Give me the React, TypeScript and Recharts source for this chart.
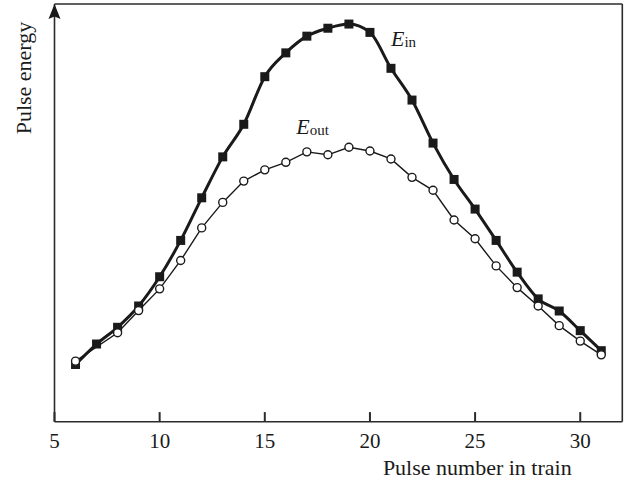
import React from "react";
import { LineChart, Line, XAxis, YAxis, ReferenceLine, ReferenceDot } from "recharts";

const pulseNumbers = [6, 7, 8, 9, 10, 11, 12, 13, 14, 15, 16, 17, 18, 19, 20, 21, 22, 23, 24, 25, 26, 27, 28, 29, 30, 31];
const energyIn = [13.7, 18.6, 22.6, 27.7, 34.7, 43.4, 53.6, 63.4, 71.2, 82.6, 88.3, 92.3, 94.2, 95.2, 93.2, 84.6, 77.0, 66.7, 58.0, 50.9, 43.4, 35.8, 29.4, 26.5, 21.8, 17.0];
const energyOut: (number | null)[] = [14.5, null, 21.3, 26.6, 31.8, 38.6, 46.4, 52.5, 57.6, 60.3, 62.1, 64.6, 63.9, 65.7, 64.8, 62.9, 58.5, 55.4, 48.3, 43.8, 37.3, 32.1, 27.7, 23.0, 19.3, 16.0];
const xTicks = [5, 10, 15, 20, 25, 30];
const xDomain = [5, 32];
const yDomain = [0, 100];
const xTitle = "Pulse number in train";
const yTitle = "Pulse energy";
const labelIn = { x: 21, y: 89.9, main: "E", sub: "in" };
const labelOut = { x: 16.5, y: 68.8, main: "E", sub: "out" };
const tickMarkLength = 2.3; // inward tick length, y-data units

const data = pulseNumbers.map((x, i) => ({ x, ein: energyIn[i], eout: energyOut[i] }));

const FONT = '"Liberation Serif", "Times New Roman", serif';
const INK = "#1a1a1a";
const AXIS = "#2b2b2b";

const SeriesLabel = (info: { main: string; sub: string }) => (props: any) => {
  const vb = props.viewBox || {};
  return (
    <text x={vb.x} y={vb.y} fontFamily={FONT} fill={INK} fontSize={22}>
      <tspan fontStyle="italic">{info.main}</tspan>
      <tspan fontSize={15} dy={1}>{info.sub}</tspan>
    </text>
  );
};

const YLabel = (props: any) => {
  const vb = props.viewBox || {};
  const ax = vb.x + vb.width;
  const top = vb.y;
  const tx = vb.x + 31;
  const ty = vb.y + 17.7;
  return (
    <g>
      <polygon points={`${ax},${top} ${ax - 6},${top + 15} ${ax},${top + 12.5} ${ax + 6},${top + 15}`} fill={INK} />
      <text
        x={tx}
        y={ty}
        transform={`rotate(-90, ${tx}, ${ty})`}
        textAnchor="end"
        fontFamily={FONT}
        fontSize={22}
        fill={INK}
      >
        {yTitle}
      </text>
    </g>
  );
};

const XLabel = (props: any) => {
  const vb = props.viewBox || {};
  return (
    <text
      x={vb.x + vb.width - 50.6}
      y={vb.y + 53.5}
      textAnchor="end"
      fontFamily={FONT}
      fontSize={22}
      fill={INK}
    >
      {xTitle}
    </text>
  );
};

const XTick = (props: any) => {
  const { x, y, payload } = props;
  return (
    <text x={x} y={y + 15} textAnchor="middle" fontFamily={FONT} fontSize={21} fill={INK}>
      {payload.value}
    </text>
  );
};

const SquareDot = (props: any) => {
  const { cx, cy } = props;
  if (cx == null || cy == null) return <g />;
  const s = 9;
  return <rect x={cx - s / 2} y={cy - s / 2} width={s} height={s} fill={INK} />;
};

export default function App() {
  return (
    <div style={{ position: "absolute", left: 0, top: 0, background: "#fff" }}>
      <LineChart
        width={627}
        height={484}
        data={data}
        margin={{ top: 4, right: 4.7, bottom: 2.3, left: 0 }}
      >
        <XAxis
          type="number"
          dataKey="x"
          domain={xDomain}
          ticks={xTicks}
          allowDataOverflow
          height={60}
          tickSize={0}
          tickMargin={11.4}
          axisLine={{ stroke: AXIS, strokeWidth: 1.6 }}
          tickLine={false}
          tick={<XTick />}
          label={{ content: XLabel }}
        />
        <YAxis
          type="number"
          domain={yDomain}
          allowDataOverflow
          width={54.5}
          tick={false}
          tickLine={false}
          axisLine={{ stroke: AXIS, strokeWidth: 1.6 }}
          label={{ content: YLabel }}
        />
        <ReferenceLine y={100} stroke={AXIS} strokeWidth={1.6} />
        <ReferenceLine x={32} stroke={AXIS} strokeWidth={1.6} />
        {xTicks.map((t) => (
          <ReferenceLine
            key={t}
            segment={[{ x: t, y: yDomain[0] }, { x: t, y: yDomain[0] + tickMarkLength }]}
            stroke={AXIS}
            strokeWidth={2}
          />
        ))}
        <Line
          type="monotone"
          dataKey="ein"
          stroke={INK}
          strokeWidth={3}
          dot={<SquareDot />}
          activeDot={false}
          isAnimationActive={false}
        />
        <Line
          type="linear"
          dataKey="eout"
          stroke={INK}
          strokeWidth={1.4}
          connectNulls
          dot={{ r: 4, fill: "#fff", stroke: INK, strokeWidth: 1.4 }}
          activeDot={false}
          isAnimationActive={false}
        />
        <ReferenceDot x={labelIn.x} y={labelIn.y} r={0} fill="none" stroke="none" label={{ content: SeriesLabel(labelIn) }} />
        <ReferenceDot x={labelOut.x} y={labelOut.y} r={0} fill="none" stroke="none" label={{ content: SeriesLabel(labelOut) }} />
      </LineChart>
    </div>
  );
}
